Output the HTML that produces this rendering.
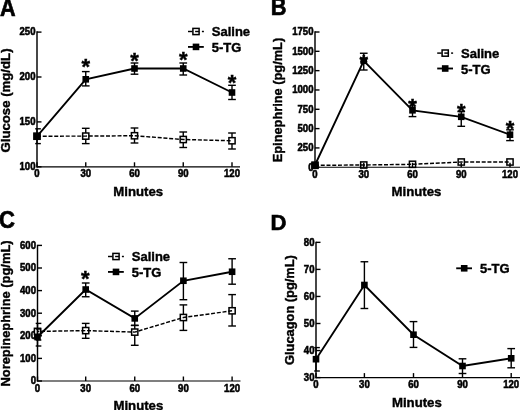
<!DOCTYPE html>
<html><head><meta charset="utf-8"><title>Figure</title>
<style>
html,body{margin:0;padding:0;background:#fff;}
body{width:520px;height:410px;overflow:hidden;font-family:"Liberation Sans",sans-serif;}
svg{display:block;will-change:transform;filter:blur(0.4px);}
</style></head><body>
<svg width="520" height="410" viewBox="0 0 520 410">
<rect x="0" y="0" width="520" height="410" fill="#fff"/>
<text transform="translate(37.00 177.40) scale(1 1.12)" font-size="9.6" text-anchor="middle" font-family="Liberation Sans, sans-serif" font-weight="bold" stroke="#000" stroke-width="0.5">0</text>
<text transform="translate(85.75 177.40) scale(1 1.12)" font-size="9.6" text-anchor="middle" font-family="Liberation Sans, sans-serif" font-weight="bold" stroke="#000" stroke-width="0.5">30</text>
<text transform="translate(134.50 177.40) scale(1 1.12)" font-size="9.6" text-anchor="middle" font-family="Liberation Sans, sans-serif" font-weight="bold" stroke="#000" stroke-width="0.5">60</text>
<text transform="translate(183.25 177.40) scale(1 1.12)" font-size="9.6" text-anchor="middle" font-family="Liberation Sans, sans-serif" font-weight="bold" stroke="#000" stroke-width="0.5">90</text>
<text transform="translate(232.00 177.40) scale(1 1.12)" font-size="9.6" text-anchor="middle" font-family="Liberation Sans, sans-serif" font-weight="bold" stroke="#000" stroke-width="0.5">120</text>
<text transform="translate(35.50 170.10) scale(1 1.12)" font-size="9.6" text-anchor="end" font-family="Liberation Sans, sans-serif" font-weight="bold" stroke="#000" stroke-width="0.5">100</text>
<text transform="translate(35.50 125.20) scale(1 1.12)" font-size="9.6" text-anchor="end" font-family="Liberation Sans, sans-serif" font-weight="bold" stroke="#000" stroke-width="0.5">150</text>
<text transform="translate(35.50 80.30) scale(1 1.12)" font-size="9.6" text-anchor="end" font-family="Liberation Sans, sans-serif" font-weight="bold" stroke="#000" stroke-width="0.5">200</text>
<text transform="translate(35.50 35.40) scale(1 1.12)" font-size="9.6" text-anchor="end" font-family="Liberation Sans, sans-serif" font-weight="bold" stroke="#000" stroke-width="0.5">250</text>
<text transform="translate(138.25 195.90) scale(1 1.03)" font-size="13.2" text-anchor="middle" font-family="Liberation Sans, sans-serif" font-weight="bold" stroke="#000" stroke-width="0.4">Minutes</text>
<text transform="translate(-0.10 15.50) scale(1 1.09)" font-size="21.6" text-anchor="start" font-family="Liberation Sans, sans-serif" font-weight="bold" stroke="#000" stroke-width="0.6">A</text>
<text transform="translate(9.60 100.50) rotate(-90)" font-size="13.2" text-anchor="middle" font-family="Liberation Sans, sans-serif" font-weight="bold" stroke="#000" stroke-width="0.4">Glucose (mg/dL)</text>
<line x1="85.75" y1="128.30" x2="85.75" y2="143.60" stroke="#000" stroke-width="1.4" stroke-linecap="butt"/>
<line x1="81.90" y1="128.30" x2="89.60" y2="128.30" stroke="#000" stroke-width="1.4" stroke-linecap="butt"/>
<line x1="81.90" y1="143.60" x2="89.60" y2="143.60" stroke="#000" stroke-width="1.4" stroke-linecap="butt"/>
<line x1="134.50" y1="128.00" x2="134.50" y2="143.00" stroke="#000" stroke-width="1.4" stroke-linecap="butt"/>
<line x1="130.65" y1="128.00" x2="138.35" y2="128.00" stroke="#000" stroke-width="1.4" stroke-linecap="butt"/>
<line x1="130.65" y1="143.00" x2="138.35" y2="143.00" stroke="#000" stroke-width="1.4" stroke-linecap="butt"/>
<line x1="183.25" y1="132.00" x2="183.25" y2="147.50" stroke="#000" stroke-width="1.4" stroke-linecap="butt"/>
<line x1="179.40" y1="132.00" x2="187.10" y2="132.00" stroke="#000" stroke-width="1.4" stroke-linecap="butt"/>
<line x1="179.40" y1="147.50" x2="187.10" y2="147.50" stroke="#000" stroke-width="1.4" stroke-linecap="butt"/>
<line x1="232.00" y1="133.00" x2="232.00" y2="149.00" stroke="#000" stroke-width="1.4" stroke-linecap="butt"/>
<line x1="228.15" y1="133.00" x2="235.85" y2="133.00" stroke="#000" stroke-width="1.4" stroke-linecap="butt"/>
<line x1="228.15" y1="149.00" x2="235.85" y2="149.00" stroke="#000" stroke-width="1.4" stroke-linecap="butt"/>
<rect x="33.90" y="133.10" width="6.20" height="6.20" fill="#fff" stroke="#000" stroke-width="1.5"/>
<rect x="82.65" y="133.00" width="6.20" height="6.20" fill="#fff" stroke="#000" stroke-width="1.5"/>
<rect x="131.40" y="132.65" width="6.20" height="6.20" fill="#fff" stroke="#000" stroke-width="1.5"/>
<rect x="180.15" y="136.40" width="6.20" height="6.20" fill="#fff" stroke="#000" stroke-width="1.5"/>
<rect x="228.90" y="137.65" width="6.20" height="6.20" fill="#fff" stroke="#000" stroke-width="1.5"/>
<polyline points="37.00,136.20 85.75,136.10 134.50,135.75 183.25,139.50 232.00,140.75" fill="none" stroke="#000" stroke-width="1.45" stroke-linejoin="miter" stroke-dasharray="4 1.75" stroke-dashoffset="0"/>
<line x1="37.00" y1="128.80" x2="37.00" y2="143.60" stroke="#000" stroke-width="1.4" stroke-linecap="butt"/>
<line x1="35.20" y1="128.80" x2="40.85" y2="128.80" stroke="#000" stroke-width="1.4" stroke-linecap="butt"/>
<line x1="35.20" y1="143.60" x2="40.85" y2="143.60" stroke="#000" stroke-width="1.4" stroke-linecap="butt"/>
<line x1="85.75" y1="71.60" x2="85.75" y2="85.90" stroke="#000" stroke-width="1.4" stroke-linecap="butt"/>
<line x1="81.90" y1="71.60" x2="89.60" y2="71.60" stroke="#000" stroke-width="1.4" stroke-linecap="butt"/>
<line x1="81.90" y1="85.90" x2="89.60" y2="85.90" stroke="#000" stroke-width="1.4" stroke-linecap="butt"/>
<line x1="134.50" y1="63.00" x2="134.50" y2="74.20" stroke="#000" stroke-width="1.4" stroke-linecap="butt"/>
<line x1="130.65" y1="63.00" x2="138.35" y2="63.00" stroke="#000" stroke-width="1.4" stroke-linecap="butt"/>
<line x1="130.65" y1="74.20" x2="138.35" y2="74.20" stroke="#000" stroke-width="1.4" stroke-linecap="butt"/>
<line x1="183.25" y1="63.00" x2="183.25" y2="75.00" stroke="#000" stroke-width="1.4" stroke-linecap="butt"/>
<line x1="179.40" y1="63.00" x2="187.10" y2="63.00" stroke="#000" stroke-width="1.4" stroke-linecap="butt"/>
<line x1="179.40" y1="75.00" x2="187.10" y2="75.00" stroke="#000" stroke-width="1.4" stroke-linecap="butt"/>
<line x1="232.00" y1="85.30" x2="232.00" y2="99.50" stroke="#000" stroke-width="1.4" stroke-linecap="butt"/>
<line x1="228.15" y1="85.30" x2="235.85" y2="85.30" stroke="#000" stroke-width="1.4" stroke-linecap="butt"/>
<line x1="228.15" y1="99.50" x2="235.85" y2="99.50" stroke="#000" stroke-width="1.4" stroke-linecap="butt"/>
<rect x="33.70" y="133.10" width="6.6" height="6.6" fill="#000"/>
<rect x="82.45" y="76.00" width="6.6" height="6.6" fill="#000"/>
<rect x="131.20" y="65.20" width="6.6" height="6.6" fill="#000"/>
<rect x="179.95" y="65.20" width="6.6" height="6.6" fill="#000"/>
<rect x="228.70" y="89.20" width="6.6" height="6.6" fill="#000"/>
<polyline points="37.00,136.40 85.75,79.30 134.50,68.50 183.25,68.50 232.00,92.50" fill="none" stroke="#000" stroke-width="1.85" stroke-linejoin="miter"/>
<text x="85.75" y="74.42" font-size="22" text-anchor="middle" font-family="Liberation Sans, sans-serif" font-weight="bold" stroke="#000" stroke-width="0.4">*</text>
<text x="134.50" y="67.72" font-size="22" text-anchor="middle" font-family="Liberation Sans, sans-serif" font-weight="bold" stroke="#000" stroke-width="0.4">*</text>
<text x="183.25" y="67.22" font-size="22" text-anchor="middle" font-family="Liberation Sans, sans-serif" font-weight="bold" stroke="#000" stroke-width="0.4">*</text>
<text x="232.00" y="90.22" font-size="22" text-anchor="middle" font-family="Liberation Sans, sans-serif" font-weight="bold" stroke="#000" stroke-width="0.4">*</text>
<rect x="192.90" y="28.40" width="6.20" height="6.20" fill="#fff" stroke="#000" stroke-width="1.5"/>
<line x1="188.00" y1="31.50" x2="192.50" y2="31.50" stroke="#000" stroke-width="1.45" stroke-linecap="butt"/>
<line x1="195.10" y1="31.50" x2="199.20" y2="31.50" stroke="#000" stroke-width="1.45" stroke-linecap="butt"/>
<line x1="201.90" y1="31.50" x2="203.90" y2="31.50" stroke="#000" stroke-width="1.45" stroke-linecap="butt"/>
<text transform="translate(211.80 36.00)" font-size="13" text-anchor="start" font-family="Liberation Sans, sans-serif" font-weight="bold" stroke="#000" stroke-width="0.4">Saline</text>
<line x1="188.00" y1="46.90" x2="203.80" y2="46.90" stroke="#000" stroke-width="1.85" stroke-linecap="butt"/>
<rect x="192.70" y="43.60" width="6.6" height="6.6" fill="#000"/>
<text transform="translate(211.80 51.90)" font-size="13" text-anchor="start" font-family="Liberation Sans, sans-serif" font-weight="bold" stroke="#000" stroke-width="0.4">5-TG</text>
<line x1="37.00" y1="31.30" x2="37.00" y2="167.38" stroke="#000" stroke-width="1.45" stroke-linecap="butt"/>
<line x1="36.27" y1="166.80" x2="240.00" y2="166.80" stroke="#000" stroke-width="1.15" stroke-linecap="butt"/>
<line x1="37.00" y1="162.30" x2="37.00" y2="166.80" stroke="#000" stroke-width="1.4" stroke-linecap="butt"/>
<line x1="85.75" y1="162.30" x2="85.75" y2="166.80" stroke="#000" stroke-width="1.4" stroke-linecap="butt"/>
<line x1="134.50" y1="162.30" x2="134.50" y2="166.80" stroke="#000" stroke-width="1.4" stroke-linecap="butt"/>
<line x1="183.25" y1="162.30" x2="183.25" y2="166.80" stroke="#000" stroke-width="1.4" stroke-linecap="butt"/>
<line x1="232.00" y1="162.30" x2="232.00" y2="166.80" stroke="#000" stroke-width="1.4" stroke-linecap="butt"/>
<line x1="37.00" y1="166.80" x2="41.50" y2="166.80" stroke="#000" stroke-width="1.4" stroke-linecap="butt"/>
<line x1="37.00" y1="121.90" x2="41.50" y2="121.90" stroke="#000" stroke-width="1.4" stroke-linecap="butt"/>
<line x1="37.00" y1="77.00" x2="41.50" y2="77.00" stroke="#000" stroke-width="1.4" stroke-linecap="butt"/>
<line x1="37.00" y1="32.10" x2="41.50" y2="32.10" stroke="#000" stroke-width="1.4" stroke-linecap="butt"/>
<text transform="translate(315.00 177.75) scale(1 1.12)" font-size="9.6" text-anchor="middle" font-family="Liberation Sans, sans-serif" font-weight="bold" stroke="#000" stroke-width="0.5">0</text>
<text transform="translate(363.75 177.75) scale(1 1.12)" font-size="9.6" text-anchor="middle" font-family="Liberation Sans, sans-serif" font-weight="bold" stroke="#000" stroke-width="0.5">30</text>
<text transform="translate(412.50 177.75) scale(1 1.12)" font-size="9.6" text-anchor="middle" font-family="Liberation Sans, sans-serif" font-weight="bold" stroke="#000" stroke-width="0.5">60</text>
<text transform="translate(461.25 177.75) scale(1 1.12)" font-size="9.6" text-anchor="middle" font-family="Liberation Sans, sans-serif" font-weight="bold" stroke="#000" stroke-width="0.5">90</text>
<text transform="translate(510.00 177.75) scale(1 1.12)" font-size="9.6" text-anchor="middle" font-family="Liberation Sans, sans-serif" font-weight="bold" stroke="#000" stroke-width="0.5">120</text>
<text transform="translate(313.50 170.55) scale(1 1.12)" font-size="9.6" text-anchor="end" font-family="Liberation Sans, sans-serif" font-weight="bold" stroke="#000" stroke-width="0.5">0</text>
<text transform="translate(313.50 151.23) scale(1 1.12)" font-size="9.6" text-anchor="end" font-family="Liberation Sans, sans-serif" font-weight="bold" stroke="#000" stroke-width="0.5">250</text>
<text transform="translate(313.50 131.91) scale(1 1.12)" font-size="9.6" text-anchor="end" font-family="Liberation Sans, sans-serif" font-weight="bold" stroke="#000" stroke-width="0.5">500</text>
<text transform="translate(313.50 112.59) scale(1 1.12)" font-size="9.6" text-anchor="end" font-family="Liberation Sans, sans-serif" font-weight="bold" stroke="#000" stroke-width="0.5">750</text>
<text transform="translate(313.50 93.27) scale(1 1.12)" font-size="9.6" text-anchor="end" font-family="Liberation Sans, sans-serif" font-weight="bold" stroke="#000" stroke-width="0.5">1000</text>
<text transform="translate(313.50 73.95) scale(1 1.12)" font-size="9.6" text-anchor="end" font-family="Liberation Sans, sans-serif" font-weight="bold" stroke="#000" stroke-width="0.5">1250</text>
<text transform="translate(313.50 54.63) scale(1 1.12)" font-size="9.6" text-anchor="end" font-family="Liberation Sans, sans-serif" font-weight="bold" stroke="#000" stroke-width="0.5">1500</text>
<text transform="translate(313.50 35.31) scale(1 1.12)" font-size="9.6" text-anchor="end" font-family="Liberation Sans, sans-serif" font-weight="bold" stroke="#000" stroke-width="0.5">1750</text>
<text transform="translate(416.40 196.20) scale(1 1.03)" font-size="13.2" text-anchor="middle" font-family="Liberation Sans, sans-serif" font-weight="bold" stroke="#000" stroke-width="0.4">Minutes</text>
<text transform="translate(270.80 15.05) scale(1 1.06)" font-size="21.8" text-anchor="start" font-family="Liberation Sans, sans-serif" font-weight="bold" stroke="#000" stroke-width="0.6">B</text>
<text transform="translate(281.80 100.05) rotate(-90)" font-size="12.8" text-anchor="middle" font-family="Liberation Sans, sans-serif" font-weight="bold" stroke="#000" stroke-width="0.4">Epinephrine (pg/mL)</text>
<rect x="311.90" y="162.20" width="6.20" height="6.20" fill="#fff" stroke="#000" stroke-width="1.5"/>
<rect x="360.65" y="161.90" width="6.20" height="6.20" fill="#fff" stroke="#000" stroke-width="1.5"/>
<rect x="409.40" y="161.20" width="6.20" height="6.20" fill="#fff" stroke="#000" stroke-width="1.5"/>
<rect x="458.15" y="158.90" width="6.20" height="6.20" fill="#fff" stroke="#000" stroke-width="1.5"/>
<rect x="506.90" y="158.90" width="6.20" height="6.20" fill="#fff" stroke="#000" stroke-width="1.5"/>
<polyline points="315.00,165.30 363.75,165.00 412.50,164.30 461.25,162.00 510.00,162.00" fill="none" stroke="#000" stroke-width="1.45" stroke-linejoin="miter" stroke-dasharray="4 1.75" stroke-dashoffset="0"/>
<line x1="363.75" y1="53.25" x2="363.75" y2="70.00" stroke="#000" stroke-width="1.4" stroke-linecap="butt"/>
<line x1="359.90" y1="53.25" x2="367.60" y2="53.25" stroke="#000" stroke-width="1.4" stroke-linecap="butt"/>
<line x1="359.90" y1="70.00" x2="367.60" y2="70.00" stroke="#000" stroke-width="1.4" stroke-linecap="butt"/>
<line x1="412.50" y1="102.00" x2="412.50" y2="116.60" stroke="#000" stroke-width="1.4" stroke-linecap="butt"/>
<line x1="408.65" y1="102.00" x2="416.35" y2="102.00" stroke="#000" stroke-width="1.4" stroke-linecap="butt"/>
<line x1="408.65" y1="116.60" x2="416.35" y2="116.60" stroke="#000" stroke-width="1.4" stroke-linecap="butt"/>
<line x1="461.25" y1="111.60" x2="461.25" y2="126.30" stroke="#000" stroke-width="1.4" stroke-linecap="butt"/>
<line x1="457.40" y1="111.60" x2="465.10" y2="111.60" stroke="#000" stroke-width="1.4" stroke-linecap="butt"/>
<line x1="457.40" y1="126.30" x2="465.10" y2="126.30" stroke="#000" stroke-width="1.4" stroke-linecap="butt"/>
<line x1="510.00" y1="129.80" x2="510.00" y2="140.60" stroke="#000" stroke-width="1.4" stroke-linecap="butt"/>
<line x1="506.15" y1="129.80" x2="513.85" y2="129.80" stroke="#000" stroke-width="1.4" stroke-linecap="butt"/>
<line x1="506.15" y1="140.60" x2="513.85" y2="140.60" stroke="#000" stroke-width="1.4" stroke-linecap="butt"/>
<rect x="311.70" y="161.70" width="6.6" height="6.6" fill="#000"/>
<rect x="360.45" y="57.50" width="6.6" height="6.6" fill="#000"/>
<rect x="409.20" y="107.00" width="6.6" height="6.6" fill="#000"/>
<rect x="457.95" y="113.50" width="6.6" height="6.6" fill="#000"/>
<rect x="506.70" y="131.40" width="6.6" height="6.6" fill="#000"/>
<polyline points="315.00,165.00 363.75,60.80 412.50,110.30 461.25,116.80 510.00,134.70" fill="none" stroke="#000" stroke-width="1.85" stroke-linejoin="miter"/>
<text x="363.75" y="70.22" font-size="22" text-anchor="middle" font-family="Liberation Sans, sans-serif" font-weight="bold" stroke="#000" stroke-width="0.4">*</text>
<text x="412.50" y="114.22" font-size="22" text-anchor="middle" font-family="Liberation Sans, sans-serif" font-weight="bold" stroke="#000" stroke-width="0.4">*</text>
<text x="461.25" y="119.02" font-size="22" text-anchor="middle" font-family="Liberation Sans, sans-serif" font-weight="bold" stroke="#000" stroke-width="0.4">*</text>
<text x="510.00" y="135.72" font-size="22" text-anchor="middle" font-family="Liberation Sans, sans-serif" font-weight="bold" stroke="#000" stroke-width="0.4">*</text>
<rect x="442.10" y="50.00" width="6.20" height="6.20" fill="#fff" stroke="#000" stroke-width="1.5"/>
<line x1="437.20" y1="53.10" x2="441.70" y2="53.10" stroke="#000" stroke-width="1.45" stroke-linecap="butt"/>
<line x1="444.30" y1="53.10" x2="448.40" y2="53.10" stroke="#000" stroke-width="1.45" stroke-linecap="butt"/>
<line x1="451.10" y1="53.10" x2="453.10" y2="53.10" stroke="#000" stroke-width="1.45" stroke-linecap="butt"/>
<text transform="translate(461.00 57.60)" font-size="13" text-anchor="start" font-family="Liberation Sans, sans-serif" font-weight="bold" stroke="#000" stroke-width="0.4">Saline</text>
<line x1="437.20" y1="68.50" x2="453.00" y2="68.50" stroke="#000" stroke-width="1.85" stroke-linecap="butt"/>
<rect x="441.90" y="65.20" width="6.6" height="6.6" fill="#000"/>
<text transform="translate(461.00 73.50)" font-size="13" text-anchor="start" font-family="Liberation Sans, sans-serif" font-weight="bold" stroke="#000" stroke-width="0.4">5-TG</text>
<line x1="315.00" y1="31.30" x2="315.00" y2="167.82" stroke="#000" stroke-width="1.45" stroke-linecap="butt"/>
<line x1="314.27" y1="167.25" x2="520.00" y2="167.25" stroke="#000" stroke-width="1.15" stroke-linecap="butt"/>
<line x1="315.00" y1="162.75" x2="315.00" y2="167.25" stroke="#000" stroke-width="1.4" stroke-linecap="butt"/>
<line x1="363.75" y1="162.75" x2="363.75" y2="167.25" stroke="#000" stroke-width="1.4" stroke-linecap="butt"/>
<line x1="412.50" y1="162.75" x2="412.50" y2="167.25" stroke="#000" stroke-width="1.4" stroke-linecap="butt"/>
<line x1="461.25" y1="162.75" x2="461.25" y2="167.25" stroke="#000" stroke-width="1.4" stroke-linecap="butt"/>
<line x1="510.00" y1="162.75" x2="510.00" y2="167.25" stroke="#000" stroke-width="1.4" stroke-linecap="butt"/>
<line x1="315.00" y1="167.25" x2="319.50" y2="167.25" stroke="#000" stroke-width="1.4" stroke-linecap="butt"/>
<line x1="315.00" y1="147.93" x2="319.50" y2="147.93" stroke="#000" stroke-width="1.4" stroke-linecap="butt"/>
<line x1="315.00" y1="128.61" x2="319.50" y2="128.61" stroke="#000" stroke-width="1.4" stroke-linecap="butt"/>
<line x1="315.00" y1="109.29" x2="319.50" y2="109.29" stroke="#000" stroke-width="1.4" stroke-linecap="butt"/>
<line x1="315.00" y1="89.97" x2="319.50" y2="89.97" stroke="#000" stroke-width="1.4" stroke-linecap="butt"/>
<line x1="315.00" y1="70.65" x2="319.50" y2="70.65" stroke="#000" stroke-width="1.4" stroke-linecap="butt"/>
<line x1="315.00" y1="51.33" x2="319.50" y2="51.33" stroke="#000" stroke-width="1.4" stroke-linecap="butt"/>
<line x1="315.00" y1="32.01" x2="319.50" y2="32.01" stroke="#000" stroke-width="1.4" stroke-linecap="butt"/>
<text transform="translate(37.50 391.50) scale(1 1.12)" font-size="9.6" text-anchor="middle" font-family="Liberation Sans, sans-serif" font-weight="bold" stroke="#000" stroke-width="0.5">0</text>
<text transform="translate(85.70 391.50) scale(1 1.12)" font-size="9.6" text-anchor="middle" font-family="Liberation Sans, sans-serif" font-weight="bold" stroke="#000" stroke-width="0.5">30</text>
<text transform="translate(134.75 391.50) scale(1 1.12)" font-size="9.6" text-anchor="middle" font-family="Liberation Sans, sans-serif" font-weight="bold" stroke="#000" stroke-width="0.5">60</text>
<text transform="translate(183.40 391.50) scale(1 1.12)" font-size="9.6" text-anchor="middle" font-family="Liberation Sans, sans-serif" font-weight="bold" stroke="#000" stroke-width="0.5">90</text>
<text transform="translate(232.10 391.50) scale(1 1.12)" font-size="9.6" text-anchor="middle" font-family="Liberation Sans, sans-serif" font-weight="bold" stroke="#000" stroke-width="0.5">120</text>
<text transform="translate(36.00 384.30) scale(1 1.12)" font-size="9.6" text-anchor="end" font-family="Liberation Sans, sans-serif" font-weight="bold" stroke="#000" stroke-width="0.5">0</text>
<text transform="translate(36.00 361.70) scale(1 1.12)" font-size="9.6" text-anchor="end" font-family="Liberation Sans, sans-serif" font-weight="bold" stroke="#000" stroke-width="0.5">100</text>
<text transform="translate(36.00 339.10) scale(1 1.12)" font-size="9.6" text-anchor="end" font-family="Liberation Sans, sans-serif" font-weight="bold" stroke="#000" stroke-width="0.5">200</text>
<text transform="translate(36.00 316.50) scale(1 1.12)" font-size="9.6" text-anchor="end" font-family="Liberation Sans, sans-serif" font-weight="bold" stroke="#000" stroke-width="0.5">300</text>
<text transform="translate(36.00 293.90) scale(1 1.12)" font-size="9.6" text-anchor="end" font-family="Liberation Sans, sans-serif" font-weight="bold" stroke="#000" stroke-width="0.5">400</text>
<text transform="translate(36.00 271.30) scale(1 1.12)" font-size="9.6" text-anchor="end" font-family="Liberation Sans, sans-serif" font-weight="bold" stroke="#000" stroke-width="0.5">500</text>
<text transform="translate(36.00 248.70) scale(1 1.12)" font-size="9.6" text-anchor="end" font-family="Liberation Sans, sans-serif" font-weight="bold" stroke="#000" stroke-width="0.5">600</text>
<text transform="translate(138.35 409.85) scale(1 1.03)" font-size="13.2" text-anchor="middle" font-family="Liberation Sans, sans-serif" font-weight="bold" stroke="#000" stroke-width="0.4">Minutes</text>
<text transform="translate(-1.00 227.70) scale(1 1.1)" font-size="22.1" text-anchor="start" font-family="Liberation Sans, sans-serif" font-weight="bold" stroke="#000" stroke-width="0.6">C</text>
<text transform="translate(9.50 313.50) rotate(-90)" font-size="12.9" text-anchor="middle" font-family="Liberation Sans, sans-serif" font-weight="bold" stroke="#000" stroke-width="0.4">Norepinephrine (pg/mL)</text>
<line x1="37.50" y1="323.40" x2="37.50" y2="340.00" stroke="#000" stroke-width="1.4" stroke-linecap="butt"/>
<line x1="35.70" y1="323.40" x2="41.35" y2="323.40" stroke="#000" stroke-width="1.4" stroke-linecap="butt"/>
<line x1="35.70" y1="340.00" x2="41.35" y2="340.00" stroke="#000" stroke-width="1.4" stroke-linecap="butt"/>
<line x1="85.70" y1="323.40" x2="85.70" y2="338.30" stroke="#000" stroke-width="1.4" stroke-linecap="butt"/>
<line x1="81.85" y1="323.40" x2="89.55" y2="323.40" stroke="#000" stroke-width="1.4" stroke-linecap="butt"/>
<line x1="81.85" y1="338.30" x2="89.55" y2="338.30" stroke="#000" stroke-width="1.4" stroke-linecap="butt"/>
<line x1="134.75" y1="325.40" x2="134.75" y2="345.30" stroke="#000" stroke-width="1.4" stroke-linecap="butt"/>
<line x1="130.90" y1="325.40" x2="138.60" y2="325.40" stroke="#000" stroke-width="1.4" stroke-linecap="butt"/>
<line x1="130.90" y1="345.30" x2="138.60" y2="345.30" stroke="#000" stroke-width="1.4" stroke-linecap="butt"/>
<line x1="183.40" y1="304.90" x2="183.40" y2="330.40" stroke="#000" stroke-width="1.4" stroke-linecap="butt"/>
<line x1="179.55" y1="304.90" x2="187.25" y2="304.90" stroke="#000" stroke-width="1.4" stroke-linecap="butt"/>
<line x1="179.55" y1="330.40" x2="187.25" y2="330.40" stroke="#000" stroke-width="1.4" stroke-linecap="butt"/>
<line x1="232.10" y1="294.60" x2="232.10" y2="326.00" stroke="#000" stroke-width="1.4" stroke-linecap="butt"/>
<line x1="228.25" y1="294.60" x2="235.95" y2="294.60" stroke="#000" stroke-width="1.4" stroke-linecap="butt"/>
<line x1="228.25" y1="326.00" x2="235.95" y2="326.00" stroke="#000" stroke-width="1.4" stroke-linecap="butt"/>
<rect x="34.40" y="328.30" width="6.20" height="6.20" fill="#fff" stroke="#000" stroke-width="1.5"/>
<rect x="82.60" y="327.50" width="6.20" height="6.20" fill="#fff" stroke="#000" stroke-width="1.5"/>
<rect x="131.65" y="329.00" width="6.20" height="6.20" fill="#fff" stroke="#000" stroke-width="1.5"/>
<rect x="180.30" y="314.40" width="6.20" height="6.20" fill="#fff" stroke="#000" stroke-width="1.5"/>
<rect x="229.00" y="307.70" width="6.20" height="6.20" fill="#fff" stroke="#000" stroke-width="1.5"/>
<polyline points="37.50,331.40 85.70,330.60 134.75,332.10 183.40,317.50 232.10,310.80" fill="none" stroke="#000" stroke-width="1.45" stroke-linejoin="miter" stroke-dasharray="4 1.75" stroke-dashoffset="2.2"/>
<line x1="37.50" y1="329.00" x2="37.50" y2="346.00" stroke="#000" stroke-width="1.4" stroke-linecap="butt"/>
<line x1="35.70" y1="329.00" x2="41.35" y2="329.00" stroke="#000" stroke-width="1.4" stroke-linecap="butt"/>
<line x1="35.70" y1="346.00" x2="41.35" y2="346.00" stroke="#000" stroke-width="1.4" stroke-linecap="butt"/>
<line x1="85.70" y1="283.00" x2="85.70" y2="296.75" stroke="#000" stroke-width="1.4" stroke-linecap="butt"/>
<line x1="81.85" y1="283.00" x2="89.55" y2="283.00" stroke="#000" stroke-width="1.4" stroke-linecap="butt"/>
<line x1="81.85" y1="296.75" x2="89.55" y2="296.75" stroke="#000" stroke-width="1.4" stroke-linecap="butt"/>
<line x1="134.75" y1="311.10" x2="134.75" y2="325.40" stroke="#000" stroke-width="1.4" stroke-linecap="butt"/>
<line x1="130.90" y1="311.10" x2="138.60" y2="311.10" stroke="#000" stroke-width="1.4" stroke-linecap="butt"/>
<line x1="130.90" y1="325.40" x2="138.60" y2="325.40" stroke="#000" stroke-width="1.4" stroke-linecap="butt"/>
<line x1="183.40" y1="262.50" x2="183.40" y2="299.70" stroke="#000" stroke-width="1.4" stroke-linecap="butt"/>
<line x1="179.55" y1="262.50" x2="187.25" y2="262.50" stroke="#000" stroke-width="1.4" stroke-linecap="butt"/>
<line x1="179.55" y1="299.70" x2="187.25" y2="299.70" stroke="#000" stroke-width="1.4" stroke-linecap="butt"/>
<line x1="232.10" y1="258.75" x2="232.10" y2="284.20" stroke="#000" stroke-width="1.4" stroke-linecap="butt"/>
<line x1="228.25" y1="258.75" x2="235.95" y2="258.75" stroke="#000" stroke-width="1.4" stroke-linecap="butt"/>
<line x1="228.25" y1="284.20" x2="235.95" y2="284.20" stroke="#000" stroke-width="1.4" stroke-linecap="butt"/>
<rect x="34.20" y="333.70" width="6.6" height="6.6" fill="#000"/>
<rect x="82.40" y="286.20" width="6.6" height="6.6" fill="#000"/>
<rect x="131.45" y="315.10" width="6.6" height="6.6" fill="#000"/>
<rect x="180.10" y="277.45" width="6.6" height="6.6" fill="#000"/>
<rect x="228.80" y="268.45" width="6.6" height="6.6" fill="#000"/>
<polyline points="37.50,337.00 85.70,289.50 134.75,318.40 183.40,280.75 232.10,271.75" fill="none" stroke="#000" stroke-width="1.85" stroke-linejoin="miter"/>
<text x="85.40" y="285.52" font-size="22" text-anchor="middle" font-family="Liberation Sans, sans-serif" font-weight="bold" stroke="#000" stroke-width="0.4">*</text>
<rect x="112.90" y="253.40" width="6.20" height="6.20" fill="#fff" stroke="#000" stroke-width="1.5"/>
<line x1="108.00" y1="256.50" x2="112.50" y2="256.50" stroke="#000" stroke-width="1.45" stroke-linecap="butt"/>
<line x1="115.10" y1="256.50" x2="119.20" y2="256.50" stroke="#000" stroke-width="1.45" stroke-linecap="butt"/>
<line x1="121.90" y1="256.50" x2="123.90" y2="256.50" stroke="#000" stroke-width="1.45" stroke-linecap="butt"/>
<text transform="translate(131.80 261.00)" font-size="13" text-anchor="start" font-family="Liberation Sans, sans-serif" font-weight="bold" stroke="#000" stroke-width="0.4">Saline</text>
<line x1="108.00" y1="271.90" x2="123.80" y2="271.90" stroke="#000" stroke-width="1.85" stroke-linecap="butt"/>
<rect x="112.70" y="268.60" width="6.6" height="6.6" fill="#000"/>
<text transform="translate(131.80 276.90)" font-size="13" text-anchor="start" font-family="Liberation Sans, sans-serif" font-weight="bold" stroke="#000" stroke-width="0.4">5-TG</text>
<line x1="37.50" y1="244.80" x2="37.50" y2="381.57" stroke="#000" stroke-width="1.45" stroke-linecap="butt"/>
<line x1="36.77" y1="381.00" x2="240.50" y2="381.00" stroke="#000" stroke-width="1.15" stroke-linecap="butt"/>
<line x1="37.50" y1="376.50" x2="37.50" y2="381.00" stroke="#000" stroke-width="1.4" stroke-linecap="butt"/>
<line x1="85.70" y1="376.50" x2="85.70" y2="381.00" stroke="#000" stroke-width="1.4" stroke-linecap="butt"/>
<line x1="134.75" y1="376.50" x2="134.75" y2="381.00" stroke="#000" stroke-width="1.4" stroke-linecap="butt"/>
<line x1="183.40" y1="376.50" x2="183.40" y2="381.00" stroke="#000" stroke-width="1.4" stroke-linecap="butt"/>
<line x1="232.10" y1="376.50" x2="232.10" y2="381.00" stroke="#000" stroke-width="1.4" stroke-linecap="butt"/>
<line x1="37.50" y1="381.00" x2="42.00" y2="381.00" stroke="#000" stroke-width="1.4" stroke-linecap="butt"/>
<line x1="37.50" y1="358.40" x2="42.00" y2="358.40" stroke="#000" stroke-width="1.4" stroke-linecap="butt"/>
<line x1="37.50" y1="335.80" x2="42.00" y2="335.80" stroke="#000" stroke-width="1.4" stroke-linecap="butt"/>
<line x1="37.50" y1="313.20" x2="42.00" y2="313.20" stroke="#000" stroke-width="1.4" stroke-linecap="butt"/>
<line x1="37.50" y1="290.60" x2="42.00" y2="290.60" stroke="#000" stroke-width="1.4" stroke-linecap="butt"/>
<line x1="37.50" y1="268.00" x2="42.00" y2="268.00" stroke="#000" stroke-width="1.4" stroke-linecap="butt"/>
<line x1="37.50" y1="245.40" x2="42.00" y2="245.40" stroke="#000" stroke-width="1.4" stroke-linecap="butt"/>
<text transform="translate(316.00 387.90) scale(1 1.12)" font-size="9.6" text-anchor="middle" font-family="Liberation Sans, sans-serif" font-weight="bold" stroke="#000" stroke-width="0.5">0</text>
<text transform="translate(364.40 387.90) scale(1 1.12)" font-size="9.6" text-anchor="middle" font-family="Liberation Sans, sans-serif" font-weight="bold" stroke="#000" stroke-width="0.5">30</text>
<text transform="translate(413.50 387.90) scale(1 1.12)" font-size="9.6" text-anchor="middle" font-family="Liberation Sans, sans-serif" font-weight="bold" stroke="#000" stroke-width="0.5">60</text>
<text transform="translate(462.50 387.90) scale(1 1.12)" font-size="9.6" text-anchor="middle" font-family="Liberation Sans, sans-serif" font-weight="bold" stroke="#000" stroke-width="0.5">90</text>
<text transform="translate(511.20 387.90) scale(1 1.12)" font-size="9.6" text-anchor="middle" font-family="Liberation Sans, sans-serif" font-weight="bold" stroke="#000" stroke-width="0.5">120</text>
<text transform="translate(314.50 380.90) scale(1 1.12)" font-size="9.6" text-anchor="end" font-family="Liberation Sans, sans-serif" font-weight="bold" stroke="#000" stroke-width="0.5">30</text>
<text transform="translate(314.50 353.85) scale(1 1.12)" font-size="9.6" text-anchor="end" font-family="Liberation Sans, sans-serif" font-weight="bold" stroke="#000" stroke-width="0.5">40</text>
<text transform="translate(314.50 326.80) scale(1 1.12)" font-size="9.6" text-anchor="end" font-family="Liberation Sans, sans-serif" font-weight="bold" stroke="#000" stroke-width="0.5">50</text>
<text transform="translate(314.50 299.75) scale(1 1.12)" font-size="9.6" text-anchor="end" font-family="Liberation Sans, sans-serif" font-weight="bold" stroke="#000" stroke-width="0.5">60</text>
<text transform="translate(314.50 272.70) scale(1 1.12)" font-size="9.6" text-anchor="end" font-family="Liberation Sans, sans-serif" font-weight="bold" stroke="#000" stroke-width="0.5">70</text>
<text transform="translate(314.50 245.65) scale(1 1.12)" font-size="9.6" text-anchor="end" font-family="Liberation Sans, sans-serif" font-weight="bold" stroke="#000" stroke-width="0.5">80</text>
<text transform="translate(416.85 406.90) scale(1 1.03)" font-size="13.2" text-anchor="middle" font-family="Liberation Sans, sans-serif" font-weight="bold" stroke="#000" stroke-width="0.4">Minutes</text>
<text transform="translate(270.60 229.70) scale(1 1.04)" font-size="22.1" text-anchor="start" font-family="Liberation Sans, sans-serif" font-weight="bold" stroke="#000" stroke-width="0.6">D</text>
<text transform="translate(293.70 310.05) rotate(-90)" font-size="12.85" text-anchor="middle" font-family="Liberation Sans, sans-serif" font-weight="bold" stroke="#000" stroke-width="0.4">Glucagon (pg/mL)</text>
<line x1="316.00" y1="347.60" x2="316.00" y2="371.00" stroke="#000" stroke-width="1.4" stroke-linecap="butt"/>
<line x1="314.20" y1="347.60" x2="319.85" y2="347.60" stroke="#000" stroke-width="1.4" stroke-linecap="butt"/>
<line x1="314.20" y1="371.00" x2="319.85" y2="371.00" stroke="#000" stroke-width="1.4" stroke-linecap="butt"/>
<line x1="364.40" y1="261.75" x2="364.40" y2="308.50" stroke="#000" stroke-width="1.4" stroke-linecap="butt"/>
<line x1="360.55" y1="261.75" x2="368.25" y2="261.75" stroke="#000" stroke-width="1.4" stroke-linecap="butt"/>
<line x1="360.55" y1="308.50" x2="368.25" y2="308.50" stroke="#000" stroke-width="1.4" stroke-linecap="butt"/>
<line x1="413.50" y1="321.60" x2="413.50" y2="347.40" stroke="#000" stroke-width="1.4" stroke-linecap="butt"/>
<line x1="409.65" y1="321.60" x2="417.35" y2="321.60" stroke="#000" stroke-width="1.4" stroke-linecap="butt"/>
<line x1="409.65" y1="347.40" x2="417.35" y2="347.40" stroke="#000" stroke-width="1.4" stroke-linecap="butt"/>
<line x1="462.50" y1="358.80" x2="462.50" y2="373.50" stroke="#000" stroke-width="1.4" stroke-linecap="butt"/>
<line x1="458.65" y1="358.80" x2="466.35" y2="358.80" stroke="#000" stroke-width="1.4" stroke-linecap="butt"/>
<line x1="458.65" y1="373.50" x2="466.35" y2="373.50" stroke="#000" stroke-width="1.4" stroke-linecap="butt"/>
<line x1="511.20" y1="348.60" x2="511.20" y2="367.80" stroke="#000" stroke-width="1.4" stroke-linecap="butt"/>
<line x1="507.35" y1="348.60" x2="515.05" y2="348.60" stroke="#000" stroke-width="1.4" stroke-linecap="butt"/>
<line x1="507.35" y1="367.80" x2="515.05" y2="367.80" stroke="#000" stroke-width="1.4" stroke-linecap="butt"/>
<rect x="312.70" y="355.90" width="6.6" height="6.6" fill="#000"/>
<rect x="361.10" y="281.70" width="6.6" height="6.6" fill="#000"/>
<rect x="410.20" y="331.40" width="6.6" height="6.6" fill="#000"/>
<rect x="459.20" y="362.70" width="6.6" height="6.6" fill="#000"/>
<rect x="507.90" y="355.00" width="6.6" height="6.6" fill="#000"/>
<polyline points="316.00,359.20 364.40,285.00 413.50,334.70 462.50,366.00 511.20,358.30" fill="none" stroke="#000" stroke-width="1.85" stroke-linejoin="miter"/>
<line x1="456.20" y1="268.30" x2="472.00" y2="268.30" stroke="#000" stroke-width="1.85" stroke-linecap="butt"/>
<rect x="460.90" y="265.00" width="6.6" height="6.6" fill="#000"/>
<text transform="translate(480.00 273.30)" font-size="13" text-anchor="start" font-family="Liberation Sans, sans-serif" font-weight="bold" stroke="#000" stroke-width="0.4">5-TG</text>
<line x1="316.00" y1="241.80" x2="316.00" y2="378.18" stroke="#000" stroke-width="1.45" stroke-linecap="butt"/>
<line x1="315.27" y1="377.60" x2="520.00" y2="377.60" stroke="#000" stroke-width="1.15" stroke-linecap="butt"/>
<line x1="316.00" y1="373.10" x2="316.00" y2="377.60" stroke="#000" stroke-width="1.4" stroke-linecap="butt"/>
<line x1="364.40" y1="373.10" x2="364.40" y2="377.60" stroke="#000" stroke-width="1.4" stroke-linecap="butt"/>
<line x1="413.50" y1="373.10" x2="413.50" y2="377.60" stroke="#000" stroke-width="1.4" stroke-linecap="butt"/>
<line x1="462.50" y1="373.10" x2="462.50" y2="377.60" stroke="#000" stroke-width="1.4" stroke-linecap="butt"/>
<line x1="511.20" y1="373.10" x2="511.20" y2="377.60" stroke="#000" stroke-width="1.4" stroke-linecap="butt"/>
<line x1="316.00" y1="377.60" x2="320.50" y2="377.60" stroke="#000" stroke-width="1.4" stroke-linecap="butt"/>
<line x1="316.00" y1="350.55" x2="320.50" y2="350.55" stroke="#000" stroke-width="1.4" stroke-linecap="butt"/>
<line x1="316.00" y1="323.50" x2="320.50" y2="323.50" stroke="#000" stroke-width="1.4" stroke-linecap="butt"/>
<line x1="316.00" y1="296.45" x2="320.50" y2="296.45" stroke="#000" stroke-width="1.4" stroke-linecap="butt"/>
<line x1="316.00" y1="269.40" x2="320.50" y2="269.40" stroke="#000" stroke-width="1.4" stroke-linecap="butt"/>
<line x1="316.00" y1="242.35" x2="320.50" y2="242.35" stroke="#000" stroke-width="1.4" stroke-linecap="butt"/>
</svg>
</body></html>
